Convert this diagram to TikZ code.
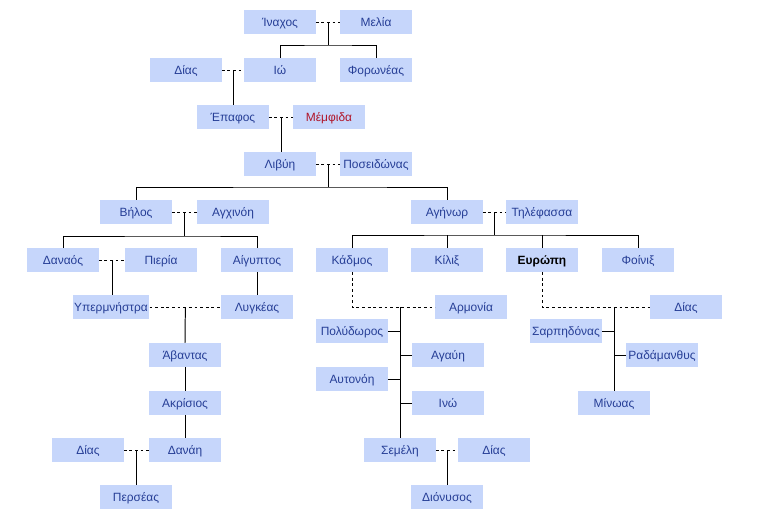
\documentclass[tikz,border=0pt]{standalone}
\usepackage{fontspec}
\setmainfont{Liberation Sans}
\usetikzlibrary{calc}
\definecolor{boxblue}{RGB}{198,214,251}
\definecolor{nameblue}{RGB}{38,62,150}
\definecolor{namered}{RGB}{176,20,40}

\begin{document}
\begin{tikzpicture}[x=0.025cm,y=-0.025cm,
    person/.style={fill=boxblue,draw=none,text=nameblue,minimum width=1.775cm,minimum height=0.59cm,inner sep=1pt,text height=1.55ex,text depth=0.45ex,font=\fontsize{8.5}{10}\selectfont},
    marriage/.style={line width=0.7pt,dash pattern=on 2pt off 2pt},
    kin/.style={line width=0.7pt}]
    \useasboundingbox (0,0) rectangle (784,522);

    \node[person](inachos)at(280,22){Ίναχος};
    \node[person](melia)at(376,22){Μελία};
    \node[person](dias1)at(186,70){Δίας};
    \node[person](io)at(280,70){Ιώ};
    \node[person](foroneas)at(376,70){Φορωνέας};
    \node[person](epafos)at(233,117){Έπαφος};
    \node[person,text=namered](memfida)at(329,117){Μέμφιδα};
    \node[person](livyi)at(280,164){Λιβύη};
    \node[person](poseidonas)at(376,164){Ποσειδώνας};
    \node[person](vilos)at(136,212){Βήλος};
    \node[person](agchinoi)at(233,212){Αγχινόη};
    \node[person](agenor)at(447,212){Αγήνωρ};
    \node[person](tilefassa)at(542,212){Τηλέφασσα};
    \node[person](danaos)at(63,260){Δαναός};
    \node[person](pieria)at(161,260){Πιερία};
    \node[person](aigyptos)at(257,260){Αίγυπτος};
    \node[person](ypermnistra)at(111,307){Υπερμνήστρα};
    \node[person](lygkeas)at(257,307){Λυγκέας};
    \node[person](avantas)at(185,355){Άβαντας};
    \node[person](akrisios)at(185,403){Ακρίσιος};
    \node[person](dias2)at(88,450){Δίας};
    \node[person](danai)at(185,450){Δανάη};
    \node[person](perseas)at(136,497){Περσέας};
    \node[person](kadmos)at(352,260){Κάδμος};
    \node[person](kilix)at(447,260){Κίλιξ};
    \node[person,text=black,font=\fontsize{8.5}{10}\selectfont\bfseries](evropi)at(542,260){Ευρώπη};
    \node[person](foinix)at(638,260){Φοίνιξ};
    \node[person](armonia)at(471,307){Αρμονία};
    \node[person](polydoros)at(352,331){Πολύδωρος};
    \node[person](agavi)at(448,355){Αγαύη};
    \node[person](aftonoi)at(352,379){Αυτονόη};
    \node[person](ino)at(448,403){Ινώ};
    \node[person](semeli)at(400,450){Σεμέλη};
    \node[person](dias3)at(494,450){Δίας};
    \node[person](dionysos)at(447,497){Διόνυσος};
    \node[person](dias4)at(686,307){Δίας};
    \node[person](sarpidonas)at(566,331){Σαρπηδόνας};
    \node[person](radamanthys)at(662,355){Ραδάμανθυς};
    \node[person](minoas)at(614,403){Μίνωας};

    \draw[marriage] (inachos) to (melia);
    \coordinate(c1)at($(inachos.east)!0.5!(melia.west)$);
    \draw[kin] (c1) to ++(0,23) coordinate(b1);
    \draw[kin] (io.north) |- (b1) -| (foroneas.north);

    \draw[marriage] (dias1) to (io);
    \coordinate(c2)at($(dias1.east)!0.5!(io.west)$);
    \draw[kin] (c2) to (c2|-epafos.north);

    \draw[marriage] (epafos) to (memfida);
    \coordinate(c3)at($(epafos.east)!0.5!(memfida.west)$);
    \draw[kin] (c3) to (c3|-livyi.north);

    \draw[marriage] (livyi) to (poseidonas);
    \coordinate(c4)at($(livyi.east)!0.5!(poseidonas.west)$);
    \draw[kin] (c4) to ++(0,23) coordinate(b4);
    \draw[kin] (vilos.north) |- (b4) -| (agenor.north);

    \draw[marriage] (vilos) to (agchinoi);
    \coordinate(c5)at($(vilos.east)!0.5!(agchinoi.west)$);
    \draw[kin] (c5) to ++(0,24) coordinate(b5);
    \draw[kin] (danaos.north) |- (b5) -| (aigyptos.north);

    \draw[marriage] (danaos) to (pieria);
    \coordinate(c6)at($(danaos.east)!0.5!(pieria.west)$);
    \draw[kin] (c6) to (c6|-ypermnistra.north);
    \draw[kin] (aigyptos) to (lygkeas);

    \draw[marriage] (ypermnistra) to (lygkeas);
    \coordinate(c7)at($(ypermnistra.east)!0.5!(lygkeas.west)$);
    \draw[kin] (c7) to (avantas.north);
    \draw[kin] (avantas) to (akrisios);
    \draw[kin] (akrisios) to (danai);

    \draw[marriage] (dias2) to (danai);
    \coordinate(c8)at($(dias2.east)!0.5!(danai.west)$);
    \draw[kin] (c8) to (c8|-perseas.north);

    \draw[marriage] (agenor) to (tilefassa);
    \coordinate(c9)at($(agenor.east)!0.5!(tilefassa.west)$);
    \draw[kin] (c9) to ++(0,23) coordinate(b9);
    \draw[kin] (kadmos.north) |- (b9) -| (foinix.north);
    \draw[kin] (kilix.north) to (kilix.north|-b9);
    \draw[kin] (evropi.north) to (evropi.north|-b9);

    \draw[marriage] (kadmos.south) |- (armonia.west);
    \coordinate(k1)at(semeli.north|-armonia.west);
    \draw[kin] (k1) to (semeli.north);
    \draw[kin] (polydoros.east) to (polydoros.east-|k1);
    \draw[kin] (agavi.west) to (agavi.west-|k1);
    \draw[kin] (aftonoi.east) to (aftonoi.east-|k1);
    \draw[kin] (ino.west) to (ino.west-|k1);

    \draw[marriage] (semeli) to (dias3);
    \coordinate(c10)at($(semeli.east)!0.5!(dias3.west)$);
    \draw[kin] (c10) to (c10|-dionysos.north);

    \draw[marriage] (evropi.south) |- (dias4.west);
    \coordinate(e1)at(minoas.north|-dias4.west);
    \draw[kin] (e1) to (minoas.north);
    \draw[kin] (sarpidonas.east) to (sarpidonas.east-|e1);
    \draw[kin] (radamanthys.west) to (radamanthys.west-|e1);
  \end{tikzpicture}
\end{document}
